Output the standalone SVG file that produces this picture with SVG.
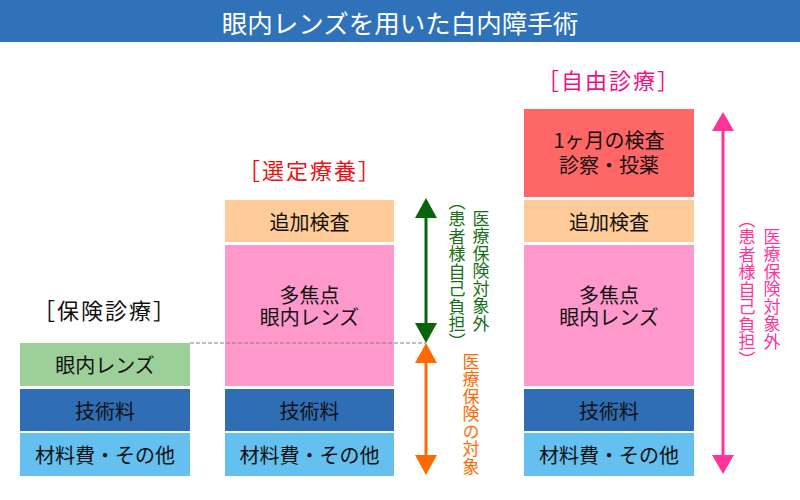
<svg xmlns="http://www.w3.org/2000/svg" width="800" height="500" viewBox="0 0 800 500">
<style>
text{font-family:"Noto Sans CJK JP","Noto Sans",sans-serif}
.t{font-size:20px;fill:#111;text-anchor:middle;dominant-baseline:central}
.h{font-size:22px;text-anchor:middle;dominant-baseline:central;letter-spacing:2px}
.v{font-size:17px;writing-mode:vertical-rl;letter-spacing:0.5px}
.green{fill:#9dcf99}.blue{fill:#2f6db4}.lblue{fill:#64c0ee}.peach{fill:#ffcc99}.pink{fill:#ff99cc}.red{fill:#ff6666}
</style>
<rect width="800" height="500" fill="#fff"/>
<g id="title">
<rect x="0" y="0" width="800" height="42" fill="#2f72ba"/>
<text x="400" y="21" font-size="25.5" fill="#fff" text-anchor="middle" dominant-baseline="central">眼内レンズを用いた白内障手術</text>
</g>
<g id="headers">
<text class="h" x="105" y="309" fill="#111">［保険診療］</text>
<text class="h" x="310" y="169" fill="#ee1111">［選定療養］</text>
<text class="h" x="609" y="79" fill="#ee1188">［自由診療］</text>
</g>
<g id="col1">
<g id="c1-lens"><rect class="green" x="20" y="343" width="170" height="43"/><text class="t" x="105" y="364.5">眼内レンズ</text></g>
<g id="c1-tech"><rect class="blue" x="20" y="389" width="170" height="42"/><text class="t" x="105" y="410">技術料</text></g>
<g id="c1-mat"><rect class="lblue" x="20" y="433" width="170" height="43"/><text class="t" x="105" y="454.5">材料費・その他</text></g>
</g>
<g id="col2">
<g id="c2-add"><rect class="peach" x="225" y="200" width="169" height="42"/><text class="t" x="309.5" y="221">追加検査</text></g>
<g id="c2-multi"><rect class="pink" x="225" y="245" width="169" height="141"/><text class="t" x="309.5" y="294"><tspan x="309.5" y="294">多焦点</tspan><tspan x="309.5" y="316">眼内レンズ</tspan></text></g>
<g id="c2-tech"><rect class="blue" x="225" y="389" width="169" height="42"/><text class="t" x="309.5" y="410">技術料</text></g>
<g id="c2-mat"><rect class="lblue" x="225" y="433" width="169" height="43"/><text class="t" x="309.5" y="454.5">材料費・その他</text></g>
</g>
<g id="col3">
<g id="c3-exam"><rect class="red" x="524" y="109" width="170" height="88"/><text class="t" x="609" y="139"><tspan x="609" y="139">1ヶ月の検査</tspan><tspan x="609" y="164">診察・投薬</tspan></text></g>
<g id="c3-add"><rect class="peach" x="524" y="200" width="170" height="42"/><text class="t" x="609" y="221">追加検査</text></g>
<g id="c3-multi"><rect class="pink" x="524" y="245" width="170" height="141"/><text class="t" x="609" y="294"><tspan x="609" y="294">多焦点</tspan><tspan x="609" y="316">眼内レンズ</tspan></text></g>
<g id="c3-tech"><rect class="blue" x="524" y="389" width="170" height="42"/><text class="t" x="609" y="410">技術料</text></g>
<g id="c3-mat"><rect class="lblue" x="524" y="433" width="170" height="43"/><text class="t" x="609" y="454.5">材料費・その他</text></g>
</g>
<g id="connectors">
<line x1="190" y1="343" x2="426" y2="343" stroke="#808080" stroke-width="1" stroke-dasharray="4 2"/>
<g id="arrow-green" fill="#0a640a">
<line x1="426" y1="216" x2="426" y2="325" stroke="#0a640a" stroke-width="3"/>
<polygon points="426,198 437,218 415,218"/>
<polygon points="426,343 437,323 415,323"/>
</g>
<g id="arrow-orange" fill="#ff6a00">
<line x1="426" y1="361" x2="426" y2="457" stroke="#ff6a00" stroke-width="3"/>
<polygon points="426,343 437,363 415,363"/>
<polygon points="426,475 437,455 415,455"/>
</g>
<g id="arrow-pink" fill="#ff3399">
<line x1="723" y1="129" x2="723" y2="457" stroke="#ff3399" stroke-width="3"/>
<polygon points="723,112 734,131 712,131"/>
<polygon points="723,474 734,455 712,455"/>
</g>
</g>
<g id="labels">
<text class="v" x="481" y="210" fill="#157015">医療保険対象外</text>
<text class="v" x="457" y="193" fill="#157015">（患者様自己負担）</text>
<text class="v" x="471" y="353" fill="#ff6a00">医療保険の対象</text>
<text class="v" x="772" y="228" fill="#ff3399">医療保険対象外</text>
<text class="v" x="747" y="211" fill="#ff3399">（患者様自己負担）</text>
</g>
</svg>
